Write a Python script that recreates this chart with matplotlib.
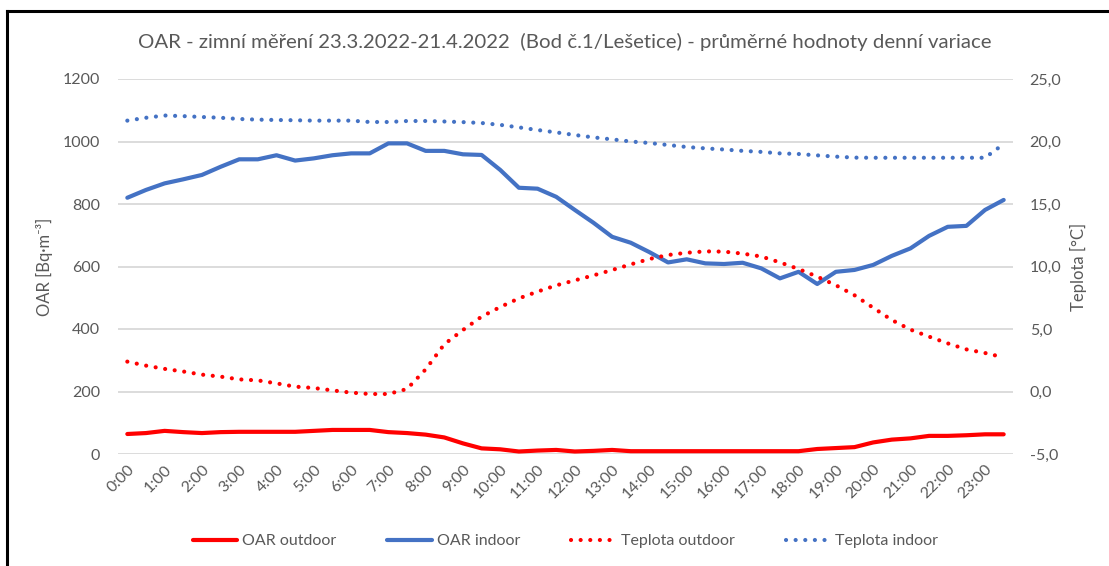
import matplotlib
matplotlib.use("Agg")
import matplotlib.pyplot as plt
from matplotlib.lines import Line2D
import numpy as np

# ---- data (half-hourly averages) ----
times = [f"{h}:{m:02d}" for h in range(24) for m in (0, 30)]
hour_labels = [f"{h}:00" for h in range(24)]

oar_outdoor = [64, 67, 74, 70, 67, 70, 71, 71, 71, 71, 74, 77, 77, 77, 70, 67,
               62, 53, 34, 18, 15, 8, 11, 13, 8, 10, 13, 9, 9, 9, 9, 9,
               9, 9, 9, 9, 9, 16, 19, 22, 37, 46, 50, 58, 58, 60, 63, 63]

oar_indoor = [820, 845, 866, 879, 893, 919, 943, 943, 956, 939, 946, 956, 962, 962, 994, 994,
              970, 970, 959, 957, 909, 852, 849, 823, 781, 740, 695, 676, 646, 613, 623, 610,
              608, 612, 594, 562, 583, 544, 583, 589, 605, 634, 658, 698, 727, 730, 781, 813]

temp_outdoor = [2.39, 2.07, 1.81, 1.60, 1.35, 1.19, 0.97, 0.89, 0.65, 0.39, 0.28, 0.09, -0.09, -0.20, -0.20, 0.20,
                1.77, 3.78, 4.92, 5.99, 6.76, 7.45, 7.99, 8.49, 8.89, 9.29, 9.72, 10.17, 10.60, 10.92, 11.10, 11.21,
                11.19, 11.03, 10.80, 10.33, 9.80, 9.19, 8.50, 7.70, 6.70, 5.72, 4.95, 4.39, 3.85, 3.37, 3.08, 2.73]

temp_indoor = [21.67, 21.90, 22.08, 22.03, 21.96, 21.90, 21.80, 21.75, 21.72, 21.70, 21.67, 21.67, 21.67, 21.56, 21.56, 21.64,
               21.64, 21.60, 21.55, 21.48, 21.33, 21.13, 20.92, 20.73, 20.52, 20.33, 20.17, 20.00, 19.88, 19.72, 19.56, 19.45,
               19.36, 19.25, 19.17, 19.05, 19.00, 18.89, 18.79, 18.71, 18.70, 18.70, 18.70, 18.70, 18.70, 18.70, 18.70, 19.80]

title = "OAR - zimní měření 23.3.2022-21.4.2022  (Bod č.1/Lešetice) - průměrné hodnoty denní variace"

RED = "#FF0000"
BLUE = "#4472C4"
GRID = "#D9D9D9"
TXT = "#595959"

plt.rcParams['font.family'] = ['Lato', 'DejaVu Sans']

fig = plt.figure(figsize=(11.09, 5.66), dpi=100)
ax = fig.add_axes([118/1109, 1-454/566, (1013-118)/1109, (454-79)/566])
ax2 = ax.twinx()

x = np.arange(len(times))

lw = 3.0
dot = dict(linestyle=(0, (0.01, 2.3)), dash_capstyle='round', lw=lw)

l1, = ax.plot(x, oar_outdoor, color=RED, lw=lw, solid_capstyle='round', label="OAR outdoor")
l2, = ax.plot(x, oar_indoor, color=BLUE, lw=lw, solid_capstyle='round', label="OAR indoor")
l3, = ax2.plot(x, temp_outdoor, color=RED, label="Teplota outdoor", **dot)
l4, = ax2.plot(x, temp_indoor, color=BLUE, label="Teplota indoor", **dot)

ax.set_xlim(-0.5, len(times) - 0.5)
ax.set_ylim(0, 1200)
ax2.set_ylim(-5, 25)
ax.set_yticks(np.arange(0, 1201, 200))
ax2.set_yticks(np.arange(-5, 26, 5))
ax2.set_yticklabels([f"{v:.1f}".replace(".", ",") for v in np.arange(-5, 26, 5)])

ax.set_xticks(x[::2])
ax.set_xticklabels(hour_labels, rotation=45, ha='right', rotation_mode='anchor')

ax.grid(axis='y', color=GRID, lw=1.3)
ax.set_axisbelow(True)
for a in (ax, ax2):
    for s in a.spines.values():
        s.set_visible(False)
    a.tick_params(length=0, colors=TXT, labelsize=11.5)
ax.tick_params(axis='y', pad=13)
ax2.tick_params(axis='y', pad=12)
ax.tick_params(axis='x', pad=6)

ax.set_ylabel("OAR [Bq·m⁻³]", color=TXT, fontsize=12, labelpad=7)
ax2.set_ylabel("Teplota [°C]", color=TXT, fontsize=12, labelpad=6)

fig.text(0.5 + 10/1109, 1-42/566, title, ha='center', va='center', color=TXT, fontsize=14.7)

fig.legend(handles=[l1, l2, l3, l4], loc='center', bbox_to_anchor=(0.5 + 11/1109, 1-541/566),
           ncol=4, frameon=False, fontsize=11.5, handlelength=2.8, columnspacing=3.2,
           handletextpad=0.3, labelcolor=TXT)

# frame lines (left and top)
fig.add_artist(Line2D([7/1109, 7/1109], [0, 1-11/566], color='black', lw=2.2, transform=fig.transFigure))
fig.add_artist(Line2D([7/1109, 1], [1-11/566, 1-11/566], color='black', lw=2.2, transform=fig.transFigure))

fig.savefig("out.png", dpi=100)
